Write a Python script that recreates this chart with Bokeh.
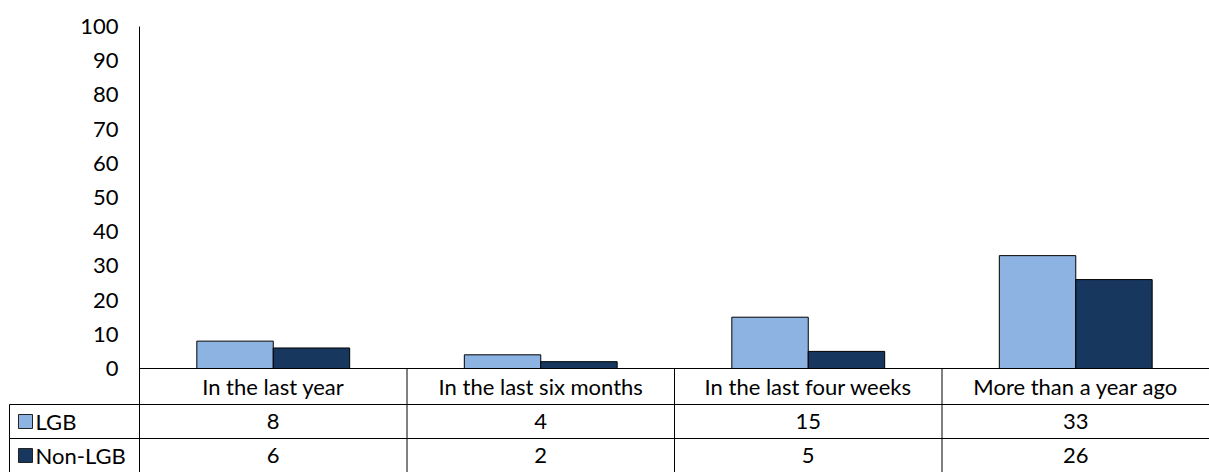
from bokeh.plotting import figure
from bokeh.models import ColumnDataSource, FactorRange, Range1d, FixedTicker
from bokeh.transform import dodge
from bokeh.core.properties import value
from bokeh.embed import file_html
from bokeh.resources import INLINE

# ---- data ----
categories = ["In the last year", "In the last six months",
              "In the last four weeks", "More than a year ago"]
series_names = ["LGB", "Non-LGB"]
lgb = [8, 4, 15, 33]
non_lgb = [6, 2, 5, 26]
y_ticks = [0, 10, 20, 30, 40, 50, 60, 70, 80, 90, 100]

# ---- style / layout ----
FONT = "Lato"
FS = "22px"
C_LGB = "#8DB3E2"
C_NON = "#17375E"
colors = [C_LGB, C_NON]

W, H = 1209, 472
LEFT = 139          # y axis position (px)
TOP = 26            # y=100 position (px)
BASE = 368          # y=0 position (px)
ROW1 = 404          # bottom of category row (px)
ROW2 = 438          # bottom of LGB row (px)
TAB_LEFT = 9        # left border of the table (px)
SQ = 14             # legend square size (px)

n = len(categories)
cat_w = (W - LEFT) / n
ppu = (BASE - TOP) / 100.0            # pixels per value unit
y_min = -(H - BASE) / ppu
r1 = -(ROW1 - BASE) / ppu
r2 = -(ROW2 - BASE) / ppu


def px_x(px):  # page x pixel -> x data coordinate (factor units)
    return (px - LEFT) / cat_w


p = figure(x_range=FactorRange(*categories), y_range=Range1d(y_min, 100),
           width=W, height=H, output_backend="svg", toolbar_location=None,
           x_axis_location=None, min_border_left=LEFT, min_border_right=0,
           min_border_top=TOP, min_border_bottom=0)
p.outline_line_color = None
p.grid.visible = False

src = ColumnDataSource(dict(cat=categories, lgb=lgb, non=non_lgb))
bw = 0.2857
p.vbar(x=dodge("cat", -bw / 2, range=p.x_range), top="lgb", bottom=0, width=bw,
       source=src, fill_color=C_LGB, line_color="black", line_width=1)
p.vbar(x=dodge("cat", bw / 2, range=p.x_range), top="non", bottom=0, width=bw,
       source=src, fill_color=C_NON, line_color="black", line_width=1)

ya = p.yaxis[0]
ya.ticker = FixedTicker(ticks=y_ticks)
ya.major_tick_out = 0
ya.major_tick_in = 0
ya.minor_tick_out = 0
ya.minor_tick_in = 0
ya.axis_line_color = "black"
ya.axis_line_width = 1
ya.major_label_standoff = 21
ya.major_label_text_font = FONT
ya.major_label_text_font_size = FS
ya.major_label_text_color = "black"

# ---- data table ----
x_left = px_x(TAB_LEFT)
# horizontal rules
p.segment(x0=[0, x_left, x_left], y0=[0, r1, r2], x1=[n, n, n], y1=[0, r1, r2],
          line_color="black", line_width=1, level="overlay")
# vertical rules between categories
vx = list(range(1, n))
p.segment(x0=vx, y0=[y_min] * len(vx), x1=vx, y1=[0] * len(vx),
          line_color="black", line_width=1)
# left border of the legend column
p.segment(x0=[x_left], y0=[y_min], x1=[x_left], y1=[r1],
          line_color="black", line_width=1, level="overlay")

xc = [i + 0.5 for i in range(n)]
txt = dict(text_align="center", text_baseline="middle", text_font=value(FONT),
           text_font_size=FS, text_color="black")
p.text(x=xc, y=[r1 / 2] * n, text=categories, **txt)
p.text(x=xc, y=[(r1 + r2) / 2] * n, text=[str(v) for v in lgb], **txt)
p.text(x=xc, y=[(r2 + y_min) / 2] * n, text=[str(v) for v in non_lgb], **txt)

# legend keys of the table rows
ly = [(r1 + r2) / 2, (r2 + y_min) / 2]
hw = SQ / 2 / cat_w
hh = SQ / 2 / ppu
kx = px_x(25)
p.quad(left=[kx - hw] * 2, right=[kx + hw] * 2,
       bottom=[v - hh for v in ly], top=[v + hh for v in ly],
       fill_color=colors, line_color="#222222", line_width=1, level="overlay")
p.text(x=[px_x(35)] * 2, y=ly, text=series_names, text_align="left",
       text_baseline="middle", text_font=value(FONT), text_font_size=FS,
       text_color="black", level="overlay")

open("out.html", "w").write(file_html(p, INLINE))
